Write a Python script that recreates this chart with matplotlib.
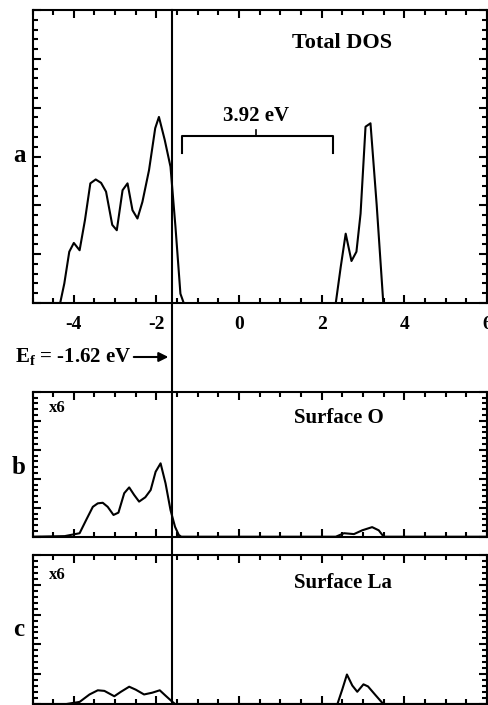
import numpy as np
import matplotlib
matplotlib.use("Agg")
import matplotlib.pyplot as plt
from matplotlib.ticker import MultipleLocator, FixedLocator, FixedFormatter

plt.rcParams["font.family"] = ["Liberation Serif", "DejaVu Serif"]
plt.rcParams["font.weight"] = "bold"
plt.rcParams["mathtext.fontset"] = "custom"
plt.rcParams["mathtext.rm"] = "Liberation Serif:bold"
plt.rcParams["mathtext.bf"] = "Liberation Serif:bold"
plt.rcParams["mathtext.it"] = "Liberation Serif:bold"

# Fermi level and gap
EF = -1.62
gap_label = "3.92 eV"
gap_lo, gap_hi = -1.38, 2.28

# (a) total DOS
tot_val_e = [-4.33, -4.23, -4.11, -4.00, -3.86, -3.73, -3.60, -3.47, -3.34, -3.22,
             -3.07, -2.96, -2.82, -2.70, -2.58, -2.46, -2.34, -2.18, -2.03, -1.94,
             -1.80, -1.66, -1.54, -1.42, -1.34]
tot_val_d = [0.0, 0.40, 1.05, 1.23, 1.08, 1.70, 2.45, 2.53, 2.46, 2.28,
             1.60, 1.49, 2.31, 2.45, 1.90, 1.73, 2.07, 2.72, 3.58, 3.81,
             3.34, 2.79, 1.56, 0.19, 0.0]
tot_con_e = [2.34, 2.46, 2.58, 2.72, 2.84, 2.94, 3.06, 3.18, 3.33, 3.49]
tot_con_d = [0.0, 0.74, 1.42, 0.86, 1.05, 1.83, 3.61, 3.68, 2.01, 0.0]

# (b) surface O (x6)
o_e = [-5.0, -4.22, -3.86, -3.70, -3.54, -3.42, -3.30, -3.18, -3.04, -2.92,
       -2.78, -2.66, -2.54, -2.42, -2.27, -2.14, -2.02, -1.90, -1.78, -1.66,
       -1.55, -1.46, -1.40, 2.34, 2.54, 2.78, 2.98, 3.22, 3.38, 3.50, 6.0]
o_d = [0.0, 0.02, 0.12, 0.58, 1.03, 1.15, 1.17, 1.03, 0.75, 0.83,
       1.50, 1.70, 1.44, 1.21, 1.36, 1.61, 2.24, 2.53, 1.84, 0.92,
       0.34, 0.06, 0.0, 0.0, 0.12, 0.09, 0.22, 0.33, 0.22, 0.0, 0.0]

# (c) surface La (x6)
la_e = [-5.0, -4.18, -3.86, -3.62, -3.42, -3.26, -3.02, -2.86, -2.66, -2.50,
        -2.30, -2.10, -1.92, -1.78, -1.62, -1.55, 2.38, 2.50, 2.61, 2.74,
        2.86, 3.01, 3.12, 3.30, 3.49, 6.0]
la_d = [0.0, 0.0, 0.07, 0.32, 0.46, 0.44, 0.26, 0.41, 0.58, 0.48,
        0.32, 0.38, 0.46, 0.28, 0.08, 0.0, 0.0, 0.5, 0.99, 0.62,
        0.41, 0.66, 0.59, 0.30, 0.0, 0.0]

xticks = [-4, -2, 0, 2, 4, 6]
xtick_labels = ["-4", "-2", "0", "2", "4", "6"]

W, H = 488, 705
fig = plt.figure(figsize=(W / 100, H / 100), dpi=100)


def fx(px):
    return px / W


def fy(py):
    return 1 - py / H


left, right = fx(32.5), fx(487)
ax_a = fig.add_axes([left, fy(303), right - left, fy(10) - fy(303)])
ax_b = fig.add_axes([left, fy(536.7), right - left, fy(391.7) - fy(536.7)])
ax_c = fig.add_axes([left, fy(704), right - left, fy(555) - fy(704)])

lw = 1.5
ax_a.plot(tot_val_e, tot_val_d, color="black", lw=lw)
ax_a.plot(tot_con_e, tot_con_d, color="black", lw=lw)
ax_a.plot([-5, -4.33], [0, 0], color="black", lw=lw)
ax_b.plot(o_e, o_d, color="black", lw=lw)
ax_c.plot(la_e, la_d, color="black", lw=lw)

for ax, ytop in [(ax_a, 6), (ax_b, 5), (ax_c, 5)]:
    ax.set_xlim(-5, 6)
    ax.set_ylim(0, ytop)
    ax.xaxis.set_major_locator(FixedLocator(xticks))
    ax.xaxis.set_minor_locator(MultipleLocator(0.5))
    ax.yaxis.set_major_locator(MultipleLocator(1))
    ax.yaxis.set_minor_locator(MultipleLocator(0.2))
    ax.tick_params(which="both", direction="in", top=True, right=True,
                   width=1.5, color="black")
    ax.tick_params(which="major", length=6)
    ax.tick_params(which="minor", length=3.5)
    ax.set_yticklabels([])
    for s in ax.spines.values():
        s.set_linewidth(1.5)

ax_a.xaxis.set_major_formatter(FixedFormatter(xtick_labels))
ax_a.tick_params(axis="x", labelsize=14, pad=9)
ax_b.set_xticklabels([])
ax_c.set_xticklabels([])

# gap bracket
yb = 3.41
ax_a.plot([gap_lo, gap_lo, gap_hi, gap_hi], [3.07, yb, yb, 3.07], color="black", lw=1.5)
mid = (gap_lo + gap_hi) / 2 - 0.03
ax_a.plot([mid, mid], [yb, 3.55], color="black", lw=1.2)
ax_a.text(mid, 3.62, gap_label, ha="center", va="bottom", fontsize=15, fontweight="bold")
ax_a.text(fx(342), fy(43), "Total DOS", transform=fig.transFigure, ha="center",
          va="center", fontsize=16, fontweight="bold")

ax_b.text(fx(49), fy(408), "x6", transform=fig.transFigure, ha="left", va="center",
          fontsize=12, fontweight="bold")
ax_b.text(fx(339), fy(418), "Surface O", transform=fig.transFigure, ha="center",
          va="center", fontsize=15, fontweight="bold")
ax_c.text(fx(49), fy(575), "x6", transform=fig.transFigure, ha="left", va="center",
          fontsize=12, fontweight="bold")
ax_c.text(fx(343), fy(583), "Surface La", transform=fig.transFigure, ha="center",
          va="center", fontsize=15, fontweight="bold")

for lab, py in [("a", 155), ("b", 468), ("c", 630)]:
    fig.text(fx(19), fy(py), lab, ha="center", va="center", fontsize=18, fontweight="bold")

# Fermi level line across all panels
x_ef = ax_a.transData.transform((EF, 0))[0] / fig.dpi / fig.get_figwidth()
fig.add_artist(plt.Line2D([x_ef, x_ef], [fy(10), fy(705)], color="black", lw=1.5,
                          transform=fig.transFigure))

fig.text(fx(15), fy(357), r"$\mathbf{E_f}$ = -1.62 eV", ha="left", va="center",
         fontsize=15, fontweight="bold")
fig.add_artist(matplotlib.patches.FancyArrowPatch(
    (fx(131), fy(357)), (x_ef - fx(1), fy(357)), transform=fig.transFigure,
    arrowstyle="-|>", mutation_scale=14, color="black", lw=1.5))

fig.savefig("out.png", dpi=100)
